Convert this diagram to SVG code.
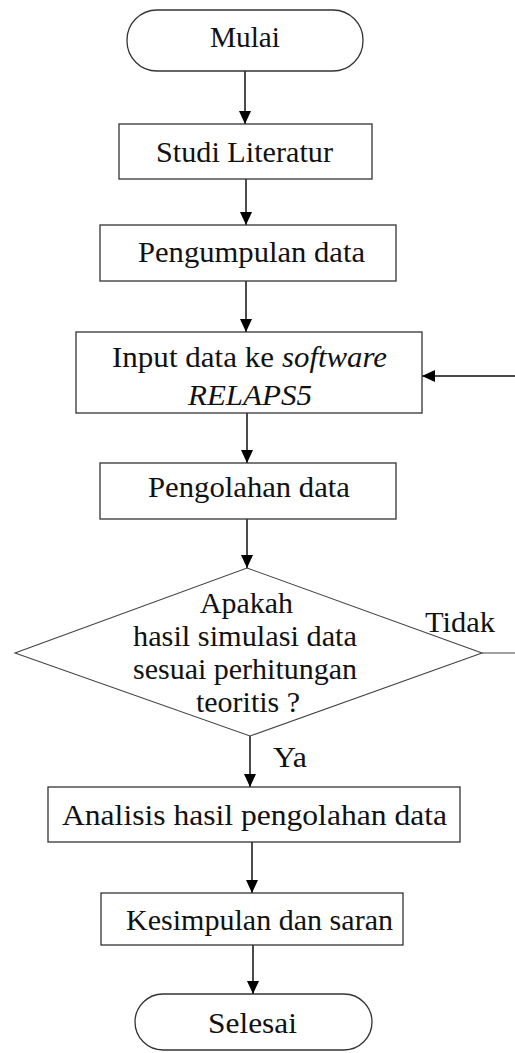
<svg xmlns="http://www.w3.org/2000/svg" width="515" height="1053" viewBox="0 0 515 1053">
<style>
.shape{fill:#fff;stroke:#333;stroke-width:1.3}
.t{font-family:"Liberation Serif","Times New Roman",serif;font-size:29px;fill:#111}
.i{font-style:italic}
.c{fill:none;stroke:#111;stroke-width:1.5}
</style>
<defs>
<marker id="ah" markerUnits="userSpaceOnUse" markerWidth="14" markerHeight="12" refX="13" refY="6" orient="auto">
<path d="M0,0 L13,6 L0,12 z" fill="#000"/>
</marker>
</defs>
<rect width="515" height="1053" fill="#fff"/>
<g id="connectors">
<line class="c" x1="245" y1="71" x2="245" y2="124" marker-end="url(#ah)"/>
<line class="c" x1="246" y1="179" x2="246" y2="225" marker-end="url(#ah)"/>
<line class="c" x1="246" y1="281" x2="246" y2="332" marker-end="url(#ah)"/>
<line class="c" x1="247" y1="413" x2="247" y2="463" marker-end="url(#ah)"/>
<line class="c" x1="247" y1="519" x2="247" y2="568" marker-end="url(#ah)"/>
<line class="c" x1="250" y1="736" x2="250" y2="787" marker-end="url(#ah)"/>
<line class="c" x1="252" y1="842" x2="252" y2="893" marker-end="url(#ah)"/>
<line class="c" x1="253" y1="945" x2="253" y2="994" marker-end="url(#ah)"/>
<line class="c" x1="482" y1="653" x2="515" y2="653" style="stroke-width:1.2;stroke:#444"/>
<line class="c" x1="515" y1="376" x2="422" y2="376" marker-end="url(#ah)"/>
<text class="t" x="425" y="632" textLength="70" lengthAdjust="spacingAndGlyphs">Tidak</text>
<text class="t" x="273" y="767" textLength="34" lengthAdjust="spacingAndGlyphs">Ya</text>
</g>
<g id="mulai">
<rect class="shape" x="127" y="10" width="236" height="61" rx="30" ry="30"/>
<text class="t" x="210" y="47" textLength="70" lengthAdjust="spacingAndGlyphs">Mulai</text>
</g>
<g id="studi">
<rect class="shape" x="119" y="124" width="253" height="55"/>
<text class="t" x="156" y="162" textLength="177" lengthAdjust="spacingAndGlyphs">Studi Literatur</text>
</g>
<g id="pengumpulan">
<rect class="shape" x="100" y="225" width="296" height="56"/>
<text class="t" x="138" y="262" textLength="227" lengthAdjust="spacingAndGlyphs">Pengumpulan data</text>
</g>
<g id="input">
<rect class="shape" x="76" y="332" width="346" height="81"/>
<text class="t" x="112" y="367" textLength="162" lengthAdjust="spacingAndGlyphs">Input data ke</text>
<text class="t i" x="282" y="367" textLength="105" lengthAdjust="spacingAndGlyphs">software</text>
<text class="t i" x="188" y="405" textLength="124" lengthAdjust="spacingAndGlyphs">RELAPS5</text>
</g>
<g id="pengolahan">
<rect class="shape" x="100" y="463" width="296" height="56"/>
<text class="t" x="148" y="497" textLength="202" lengthAdjust="spacingAndGlyphs">Pengolahan data</text>
</g>
<g id="keputusan">
<polygon class="shape" points="247,568 482,653 250,736 15,653" style="stroke-width:1.1;stroke:#444"/>
<text class="t" x="200" y="613" textLength="93" lengthAdjust="spacingAndGlyphs">Apakah</text>
<text class="t" x="133" y="646" textLength="224" lengthAdjust="spacingAndGlyphs">hasil simulasi data</text>
<text class="t" x="133" y="679" textLength="224" lengthAdjust="spacingAndGlyphs">sesuai perhitungan</text>
<text class="t" x="196" y="712" textLength="104" lengthAdjust="spacingAndGlyphs">teoritis ?</text>
</g>
<g id="analisis">
<rect class="shape" x="48" y="787" width="412" height="55"/>
<text class="t" x="62" y="825" textLength="385" lengthAdjust="spacingAndGlyphs">Analisis hasil pengolahan data</text>
</g>
<g id="kesimpulan">
<rect class="shape" x="101" y="893" width="302" height="52"/>
<text class="t" x="126" y="930" textLength="267" lengthAdjust="spacingAndGlyphs">Kesimpulan dan saran</text>
</g>
<g id="selesai">
<rect class="shape" x="135" y="994" width="237" height="56" rx="28" ry="28"/>
<text class="t" x="208" y="1033" textLength="89" lengthAdjust="spacingAndGlyphs">Selesai</text>
</g>
</svg>
